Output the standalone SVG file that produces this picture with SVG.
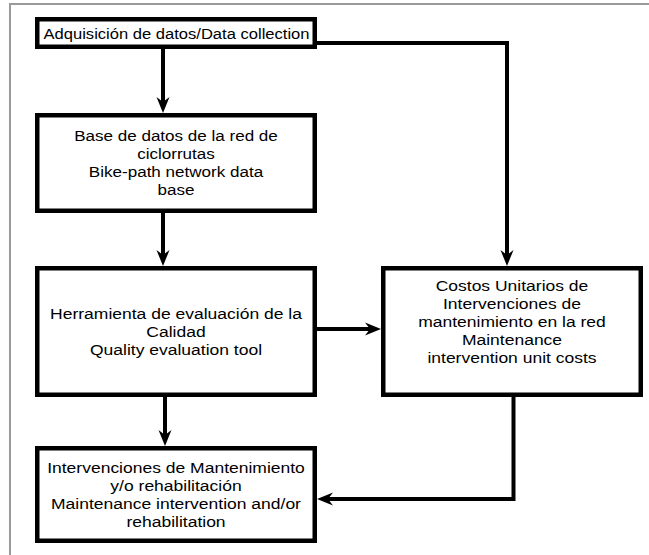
<svg xmlns="http://www.w3.org/2000/svg" width="649" height="555" viewBox="0 0 649 555">
<style>
.frame{fill:none;stroke:#9a9a9a;stroke-width:2}
.box{fill:#fff;stroke:#000;stroke-width:4.5}
.t{font-family:"Liberation Sans",Arial,sans-serif;font-size:15.5px;fill:#000;text-anchor:middle}
.c{fill:none;stroke:#000;stroke-width:4;marker-end:url(#ah)}
</style>
<defs>
<marker id="ah" markerUnits="userSpaceOnUse" markerWidth="20" markerHeight="20" refX="5" refY="8" orient="auto" viewBox="0 0 20 16">
<path d="M0,1.5 L16,8 L0,14.5 L5,8 Z" fill="#000"/>
</marker>
</defs>
<rect width="649" height="555" fill="#fff"/>
<path class="frame" d="M10,555 V4 H649"/>
<g id="connectors">
<path class="c" d="M163,49 V102"/>
<path class="c" d="M163,213 V255"/>
<path class="c" d="M165,397 V435"/>
<path class="c" d="M317,329 H370"/>
<path class="c" d="M317,43 H507 V255"/>
<path class="c" d="M513.5,397 V499 H328"/>
</g>
<g id="n1">
<rect class="box" x="37.25" y="19.25" width="277.5" height="27.5"/>
<text class="t" x="176.5" y="39" textLength="266" lengthAdjust="spacingAndGlyphs">Adquisición de datos/Data collection</text>
</g>
<g id="n2">
<rect class="box" x="37.25" y="115.25" width="277.5" height="95.5"/>
<g transform="translate(176,0) scale(1.1,1)">
<text class="t" x="0" y="141">Base de datos de la red de</text>
<text class="t" x="0" y="159">ciclorrutas</text>
<text class="t" x="0" y="177">Bike-path network data</text>
<text class="t" x="0" y="195">base</text>
</g>
</g>
<g id="n3">
<rect class="box" x="37.25" y="268.25" width="277.5" height="126.5"/>
<g transform="translate(176,0) scale(1.13,1)">
<text class="t" x="0" y="319">Herramienta de evaluación de la</text>
<text class="t" x="0" y="337">Calidad</text>
<text class="t" x="0" y="355">Quality evaluation tool</text>
</g>
</g>
<g id="n4">
<rect class="box" x="383.25" y="268.25" width="257.5" height="126.5"/>
<g transform="translate(512,0) scale(1.13,1)">
<text class="t" x="0" y="291">Costos Unitarios de</text>
<text class="t" x="0" y="309">Intervenciones de</text>
<text class="t" x="0" y="327">mantenimiento en la red</text>
<text class="t" x="0" y="345">Maintenance</text>
<text class="t" x="0" y="363">intervention unit costs</text>
</g>
</g>
<g id="n5">
<rect class="box" x="37.25" y="448.25" width="277.5" height="92.5"/>
<g transform="translate(176,0) scale(1.13,1)">
<text class="t" x="0" y="473">Intervenciones de Mantenimiento</text>
<text class="t" x="0" y="491">y/o rehabilitación</text>
<text class="t" x="0" y="509">Maintenance intervention and/or</text>
<text class="t" x="0" y="527">rehabilitation</text>
</g>
</g>
</svg>
